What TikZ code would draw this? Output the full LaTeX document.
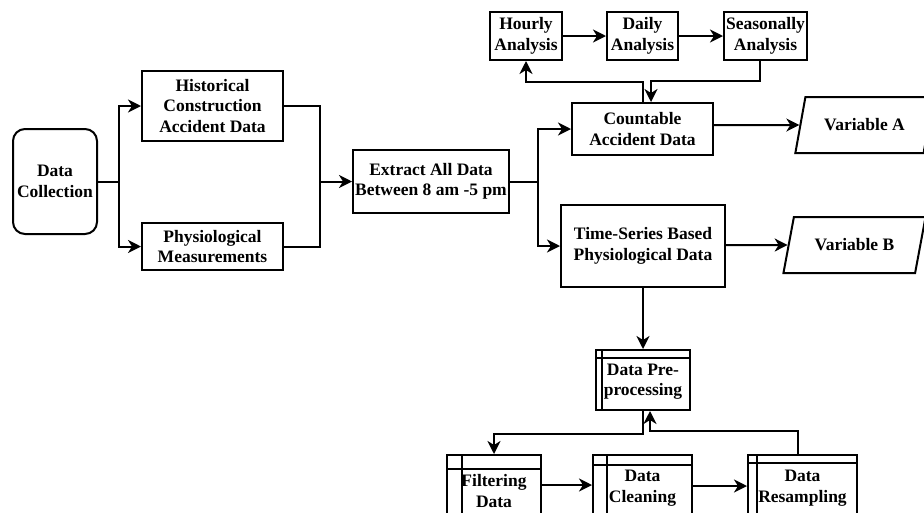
\documentclass[tikz,border=0pt]{standalone}
\usepackage{fontspec}
\setmainfont{Liberation Serif}
\usetikzlibrary{arrows.meta,shapes.geometric}

\begin{document}
\begin{tikzpicture}[x=1pt,y=-1pt,line width=2pt,
  >={Stealth[length=13pt,width=13pt,inset=4pt]},
  lbl/.style={align=center,inner sep=1pt,font=\fontsize{17.5}{20.5}\selectfont\bfseries},
  box/.style={lbl,draw,rectangle},
  para/.style={lbl,draw,trapezium,trapezium left angle=64,trapezium right angle=116,
    trapezium stretches=true},
  store/.style 2 args={box,path picture={
    \draw[line width=2pt] ([xshift=#1]path picture bounding box.north west)
      -- ([xshift=#1]path picture bounding box.south west);
    \draw[line width=2pt] ([yshift=-#2]path picture bounding box.north west)
      -- ([yshift=-#2]path picture bounding box.north east);}}]
  \useasboundingbox (0,0) rectangle (924,512);
  \clip (0,0) rectangle (924,512);

  % collection and sources
  \node[box,rounded corners=12pt,minimum width=84pt,minimum height=105pt] (dc) at (55,181.5) {Data\\Collection};
  \node[box,minimum width=141pt,minimum height=70pt] (hist) at (212.5,106) {Historical\\Construction\\Accident Data};
  \node[box,minimum width=141pt,minimum height=47pt] (phys) at (212.5,246.5) {Physiological\\Measurements};
  \node[box,minimum width=156pt,minimum height=63pt] (extract) at (431,181.5) {Extract All Data\\Between 8 am -5 pm};

  % accident branch
  \node[box,minimum width=141pt,minimum height=52pt] (count) at (642.5,129) {Countable\\Accident Data};
  \node[box,minimum width=72pt,minimum height=48pt] (hourly) at (526,36) {Hourly\\Analysis};
  \node[box,minimum width=71pt,minimum height=48pt] (daily) at (642.5,36) {Daily\\Analysis};
  \node[box,minimum width=83pt,minimum height=48pt] (season) at (765.5,36) {Seasonally\\Analysis};
  \node[para,minimum width=139pt,minimum height=56pt] (varA) at (864.5,125) {Variable A};

  % physiological branch
  \node[box,minimum width=164pt,minimum height=82pt] (ts) at (643,246) {Time-Series Based\\Physiological Data};
  \node[para,minimum width=143pt,minimum height=56pt] (varB) at (854.5,245) {Variable B};
  \node[store={6pt}{8pt},minimum width=94pt,minimum height=60pt,text depth=0pt] (pre) at (643,380) {Data Pre-\\processing};
  \node[store={15pt}{14pt},minimum width=94pt,minimum height=72pt] (filt) at (494,491) {Filtering\\Data};
  \node[store={14pt}{10pt},minimum width=99pt,minimum height=66pt] (clean) at (642.5,488) {Data\\Cleaning};
  \node[store={9pt}{8pt},minimum width=109pt,minimum height=66pt] (resamp) at (802.5,488) {Data\\Resampling};

  % connectors
  \draw[->] (dc.east) -- ++(21,0) |- (hist.west);
  \draw[->] (dc.east) -- ++(21,0) |- (phys.west);
  \coordinate (mj) at (320,181.5);
  \draw (hist.east) -| (mj);
  \draw (phys.east) -| (mj);
  \draw[->] (mj) -- (extract.west);
  \draw[->] (extract.east) -- ++(28,0) |- (count.west);
  \draw[->] (extract.east) -- ++(28,0) |- (ts.west);

  \draw[->] (hourly) -- (daily);
  \draw[->] (daily) -- (season);
  \draw[->] ([xshift=0.5pt]count.north) -- ++(0,-20) -| (hourly.south);
  \draw[->] ([xshift=-6pt]season.south) -- ++(0,20) -| ([xshift=8.5pt]count.north);
  \draw[->] (count.east |- varA) -- (varA);
  \draw[->] (ts.east |- varB) -- (varB);

  \draw[->] (ts.south) -- (pre.north);
  \draw[->] (pre.south) -- ++(0,23) -| (filt.north);
  \draw[->] ([xshift=-4.5pt]resamp.north) -- ++(0,-23) -| ([xshift=7pt]pre.south);
  \draw[->] (filt.east |- 0,485) -- (clean.west |- 0,485);
  \draw[->] (clean.east |- 0,486) -- (resamp.west |- 0,486);
\end{tikzpicture}
\end{document}
